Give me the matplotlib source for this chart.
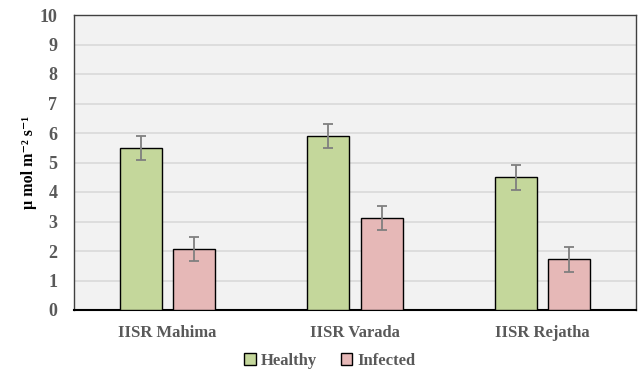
import matplotlib
matplotlib.use("Agg")
import matplotlib.pyplot as plt
import numpy as np

categories = ["IISR Mahima", "IISR Varada", "IISR Rejatha"]
healthy = [5.5, 5.9, 4.5]
infected = [2.07, 3.12, 1.72]
healthy_err = [0.41, 0.42, 0.42]
infected_err = [0.41, 0.42, 0.43]
yticks = list(range(0, 11))

plt.rcParams['font.family'] = ['Liberation Serif', 'DejaVu Serif']
plt.rcParams['font.weight'] = 'bold'

fig = plt.figure(figsize=(6.38, 3.72), dpi=100)
ax = fig.add_axes([74/638, 62/372, 562/638, 295/372])
ax.set_facecolor('#F2F2F2')

x = np.arange(len(categories))
w = 0.225
off = 0.142
ekw = dict(ecolor='#7F7F7F', elinewidth=1.3, capsize=3.5, capthick=1.3)
ax.bar(x - off, healthy, w, color='#C4D79B', edgecolor='black', linewidth=1.0,
       yerr=healthy_err, error_kw=ekw, label='Healthy', zorder=3)
ax.bar(x + off, infected, w, color='#E6B8B7', edgecolor='black', linewidth=1.0,
       yerr=infected_err, error_kw=ekw, label='Infected', zorder=3)

ax.set_xlim(-0.5, 2.5)
ax.set_ylim(0, 10)
ax.set_yticks(yticks)
ax.yaxis.grid(True, color='#D9D9D9', linewidth=1.2, zorder=0)
ax.set_axisbelow(True)
ax.set_xticks(x)
ax.set_xticklabels(categories)
ax.tick_params(axis='both', length=0, labelcolor='#595959', labelsize=12)
ax.tick_params(axis='y', labelsize=13, pad=12)
ax.tick_params(axis='x', pad=11)
for lab in ax.get_xticklabels() + ax.get_yticklabels():
    lab.set_fontweight('bold')

for s in ['left', 'top', 'right']:
    ax.spines[s].set_color('#404040')
    ax.spines[s].set_linewidth(1.0)
ax.spines['bottom'].set_color('black')
ax.spines['bottom'].set_linewidth(1.5)

ax.set_ylabel('µ mol m⁻² s⁻¹', fontsize=11.5, fontweight='bold', color='black', labelpad=2)

leg = fig.legend(loc='center', bbox_to_anchor=(330/638, 1 - 361/372), ncol=2, frameon=False,
                 handlelength=0.7, handleheight=0.7, handletextpad=0.3, columnspacing=1.4,
                 prop={'weight': 'bold', 'size': 12})
for t in leg.get_texts():
    t.set_color('#595959')

fig.savefig('out.png', dpi=100)
